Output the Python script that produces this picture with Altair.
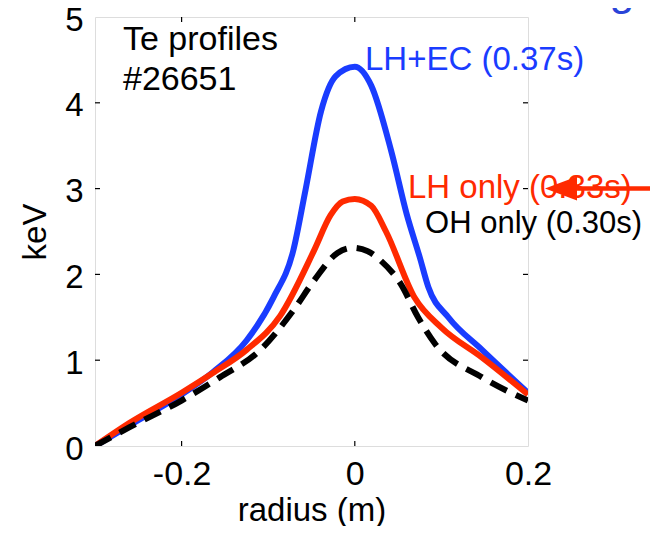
import altair as alt
import pandas as pd

# ---- data ----
radius_lhec = [-0.3, -0.25, -0.2, -0.164, -0.125, -0.094, -0.071, -0.057, -0.039, -0.022, 0.0, 0.019, 0.042, 0.06, 0.075, 0.085, 0.108, 0.147, 0.2]
te_lhec = [0.0, 0.3, 0.6, 0.86, 1.23, 1.73, 2.28, 2.98, 3.9, 4.31, 4.42, 4.2, 3.44, 2.7, 2.2, 1.85, 1.5, 1.12, 0.62]

radius_lh = [-0.3, -0.26, -0.2, -0.164, -0.125, -0.086, -0.047, -0.028, -0.014, 0.0, 0.019, 0.036, 0.069, 0.1, 0.147, 0.2]
te_lh = [0.0, 0.27, 0.62, 0.85, 1.12, 1.52, 2.28, 2.69, 2.85, 2.88, 2.8, 2.5, 1.73, 1.38, 1.03, 0.6]

radius_oh = [-0.3, -0.26, -0.2, -0.156, -0.109, -0.071, -0.047, -0.02, -0.003, 0.015, 0.03, 0.053, 0.073, 0.092, 0.147, 0.2]
te_oh = [0.0, 0.22, 0.53, 0.8, 1.12, 1.58, 1.93, 2.25, 2.31, 2.27, 2.16, 1.89, 1.5, 1.2, 0.8, 0.53]

x_ticks = [-0.2, 0.0, 0.2]
y_ticks = [0, 1, 2, 3, 4, 5]

BLUE = "#1a3cff"
RED = "#ff2a00"
TITLE_BLUE = "#2a44d8"
FONT = "Liberation Sans"

W, H = 433, 429

df_lhec = pd.DataFrame({"r": radius_lhec, "te": te_lhec})
df_lh = pd.DataFrame({"r": radius_lh, "te": te_lh})
df_oh = pd.DataFrame({"r": radius_oh, "te": te_oh})

xscale = alt.Scale(domain=[-0.3, 0.2], nice=False, zero=False)
yscale = alt.Scale(domain=[0, 5], nice=False, zero=False)

x_axis = alt.Axis(values=x_ticks, ticks=False, domain=False, grid=False,
                  labelFontSize=34, labelFont=FONT, labelColor="black", labelPadding=11,
                  labelExpr="datum.value == 0 ? '0' : (datum.value < 0 ? '-' : '') + format(abs(datum.value), '.1f')",
                  title="radius (m)", titleFontSize=33, titleFont=FONT, titleFontWeight="normal",
                  titleColor="black", titleBaseline="alphabetic", titleY=74, labelFlush=False)
y_axis = alt.Axis(values=y_ticks, ticks=False, domain=False, grid=False,
                  labelFontSize=33, labelFont=FONT, labelColor="black", labelPadding=12, labelOffset=3,
                  title="keV", titleFontSize=33, titleFont=FONT, titleFontWeight="normal",
                  titleColor="black", titleBaseline="alphabetic", titleX=-50, labelFlush=False)

X = alt.X("r:Q", scale=xscale, axis=x_axis)
Y = alt.Y("te:Q", scale=yscale, axis=y_axis)

blue = alt.Chart(df_lhec).mark_line(color=BLUE, strokeWidth=6, clip=True, interpolate="monotone").encode(x=X, y=Y)
red = alt.Chart(df_lh).mark_line(color=RED, strokeWidth=6, clip=True, interpolate="monotone").encode(x=X, y=Y)
black = alt.Chart(df_oh).mark_line(color="black", strokeWidth=6, strokeDash=[18, 10], clip=True,
                                   interpolate="monotone").encode(x=X, y=Y)

# inward ticks
inner_x = pd.DataFrame({"r": [-0.2, 0.0]})
inner_y = pd.DataFrame({"te": [1, 2, 3, 4]})
tk = dict(color="black", strokeWidth=1.2)
ticks_bottom = alt.Chart(inner_x).mark_rule(**tk).encode(x=X, y=alt.value(H), y2=alt.value(H - 5))
ticks_top = alt.Chart(inner_x).mark_rule(**tk).encode(x=X, y=alt.value(0), y2=alt.value(5))
ticks_left = alt.Chart(inner_y).mark_rule(**tk).encode(y=Y, x=alt.value(0), x2=alt.value(5))
ticks_right = alt.Chart(inner_y).mark_rule(**tk).encode(y=Y, x=alt.value(W), x2=alt.value(W - 5))

# annotations (data coordinates)
ann_text = ["Te profiles", "#26651", "LH+EC (0.37s)", "LH only (0.33s)", "OH only (0.30s)"]
ann_r = [-0.2677, -0.2677, 0.0118, 0.0614, 0.0811]
ann_te = [4.615, 4.149, 4.382, 2.890, 2.483]
ann_color = ["black", "black", BLUE, RED, "black"]
ann_size = [34, 34, 33, 33, 31]
df_ann = pd.DataFrame({"r": ann_r, "te": ann_te, "t": ann_text, "c": ann_color, "s": ann_size})
ann = alt.Chart(df_ann).mark_text(align="left", baseline="alphabetic", font=FONT).encode(
    x=X, y=Y, text="t:N",
    color=alt.Color("c:N", scale=None),
    size=alt.Size("s:Q", scale=None),
)

# arrow pointing at "LH only"
arrow_r = [0.2566, 0.36]
arrow_te = [3.0, 3.0]
df_arrow = pd.DataFrame({"r": [arrow_r[0]], "r2": [arrow_r[1]], "te": [arrow_te[0]]})
arrow_line = alt.Chart(df_arrow).mark_rule(color=RED, strokeWidth=4.5).encode(
    x=X, x2="r2:Q", y=Y)
df_head = pd.DataFrame({"r": [0.2381], "te": [3.0]})
arrow_head = alt.Chart(df_head).mark_point(
    shape="M -1 0 L 1 -0.75 L 1 0.75 Z", filled=True, color=RED, opacity=1, size=1024, strokeWidth=0
).encode(x=X, y=Y)

# clipped slide title above
df_title = pd.DataFrame({"r": [0.352], "te": [5.14], "t": ["and fast electrons through"]})
slide_title = alt.Chart(df_title).mark_text(align="right", baseline="alphabetic", font=FONT,
                                            fontSize=45, color=TITLE_BLUE).encode(x=X, y=Y, text="t:N")

chart = alt.layer(
    blue, red, black, ticks_bottom, ticks_top, ticks_left, ticks_right, ann, arrow_line, arrow_head, slide_title
).properties(
    width=W, height=H,
    padding={"left": 87, "top": 9, "right": 122, "bottom": 80},
    autosize=alt.AutoSizeParams(type="none"),
).configure_view(stroke="black", strokeWidth=1.5).configure(background="white")

chart.save("out.html", embed_options={"renderer": "svg", "actions": False})
